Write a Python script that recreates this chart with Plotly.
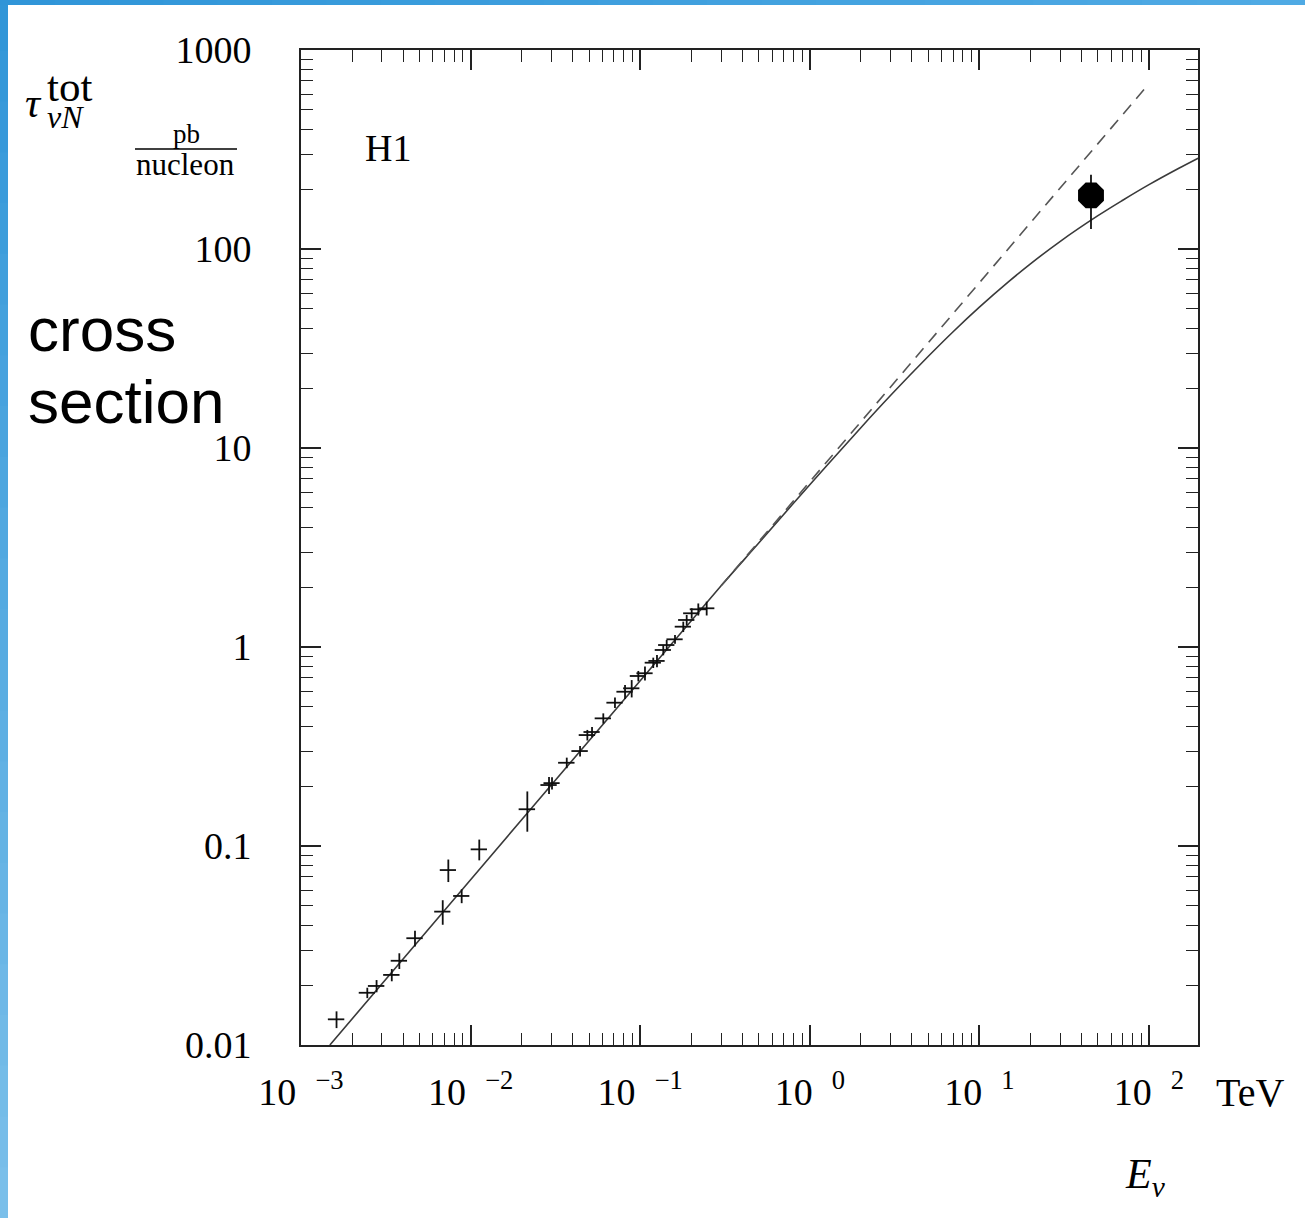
import plotly.graph_objects as go

# ---------------- data ----------------
# measured points (crosses): neutrino energy [TeV], cross section [pb/nucleon]
E_data = [0.00162, 0.00246, 0.00279, 0.00343, 0.00380, 0.00470, 0.00685, 0.00886,
          0.00739, 0.01125, 0.0216, 0.0290, 0.0302, 0.0369, 0.0442, 0.0488, 0.0520,
          0.0606, 0.0710, 0.0814, 0.0891, 0.0975, 0.1067, 0.1194, 0.1256, 0.1368,
          0.1433, 0.1604, 0.1795, 0.1880, 0.2012, 0.2201, 0.2466]
sig_data = [0.01346, 0.0183, 0.0198, 0.0225, 0.0265, 0.0344, 0.0468, 0.0561,
            0.0757, 0.0962, 0.153, 0.2025, 0.207, 0.262, 0.300, 0.361, 0.374,
            0.438, 0.525, 0.596, 0.620, 0.715, 0.738, 0.834, 0.851, 0.966,
            1.023, 1.093, 1.265, 1.367, 1.477, 1.547, 1.565]
sig_err = [0.0013, 0.0011, 0.0014, 0.0016, 0.0024, 0.0031, 0.0066, 0.0045,
           0.0098, 0.0115, 0.035, 0.020, 0.0145, 0.016, 0.018, 0.022, 0.022,
           0.026, 0.032, 0.048, 0.062, 0.043, 0.059, 0.050, 0.060, 0.058,
           0.061, 0.055, 0.076, 0.082, 0.089, 0.108, 0.125]
E_err = [0.00018, 0.00027, 0.00031, 0.00038, 0.00042, 0.00052, 0.00075, 0.00097,
         0.00081, 0.00124, 0.0024, 0.0032, 0.0033, 0.0041, 0.0049, 0.0054, 0.0057,
         0.0067, 0.0078, 0.0090, 0.0098, 0.0107, 0.0117, 0.0131, 0.0138, 0.0150,
         0.0158, 0.0176, 0.0197, 0.0207, 0.0221, 0.0242, 0.0271]

# H1 point
E_h1 = [45.5]
sig_h1 = [186]
sig_h1_up = [50]
sig_h1_dn = [60]

# theory curve (solid)
E_curve = [0.00148, 0.01, 0.1, 0.3, 0.5, 1, 2, 3, 5, 7, 10, 15, 20, 30, 50, 70, 100, 150, 195]
sig_curve = [0.0100, 0.0677, 0.677, 2.03, 3.33, 6.54, 12.65, 18.4, 28.9, 38.4, 51.0,
             68.9, 84.2, 109.3, 147, 175.8, 210.5, 254.5, 286]

# linear extrapolation (dashed)
E_lin = [0.3, 100]
sig_lin = [2.03, 677]

x_tickvals = [1e-3, 1e-2, 1e-1, 1, 10, 100]
x_ticktext = ["10\u2002<sup>\u22123</sup>", "10\u2002<sup>\u22122</sup>",
              "10\u2002<sup>\u22121</sup>", "10\u2002<sup>0</sup>",
              "10\u2002<sup>1</sup>", "10\u2002<sup>2</sup>"]
y_tickvals = [0.01, 0.1, 1, 10, 100, 1000]
y_ticktext = ["0.01", "0.1", "1", "10", "100", "1000"]

# ---------------- layout geometry ----------------
W, H = 1305, 1218
L, R, T, B = 301, 1198, 50, 1045


def px(x):
    return (x - L) / (R - L)


def py(y):
    return 1 - (y - T) / (B - T)


SERIF = "Liberation Serif, Times New Roman, serif"
SANS = "Liberation Sans, Arial, sans-serif"

fig = go.Figure()

fig.add_trace(go.Scatter(x=E_curve, y=sig_curve, mode="lines",
                         line=dict(color="#3a3a3a", width=1.6, shape="spline"),
                         showlegend=False, hoverinfo="skip"))
fig.add_trace(go.Scatter(x=E_lin, y=sig_lin, mode="lines",
                         line=dict(color="#555555", width=1.6, dash="12px,8px"),
                         showlegend=False, hoverinfo="skip"))
fig.add_trace(go.Scatter(x=E_data, y=sig_data, mode="markers",
                         marker=dict(size=1, color="black"),
                         error_x=dict(type="data", array=E_err, color="#111111", thickness=1.8, width=0),
                         error_y=dict(type="data", array=sig_err, color="#111111", thickness=1.8, width=0),
                         showlegend=False))
fig.add_trace(go.Scatter(x=E_h1, y=sig_h1, mode="markers",
                         marker=dict(size=28, color="black", symbol="octagon"),
                         error_y=dict(type="data", symmetric=False, array=sig_h1_up,
                                      arrayminus=sig_h1_dn, color="#111111", thickness=1.8, width=0),
                         showlegend=False))

axis_common = dict(
    type="log", showgrid=False, zeroline=False, showline=True, linecolor="#222222",
    linewidth=2, mirror="ticks", ticks="inside", ticklen=20, tickwidth=1.6,
    tickcolor="#222222", automargin=False,
    tickfont=dict(family=SERIF, size=38, color="black"),
    minor=dict(ticks="inside", ticklen=12, tickwidth=1.4, tickcolor="#222222",
               dtick="D1", showgrid=False),
)

fig.update_xaxes(range=[-3, 2.289], tickmode="array", tickvals=x_tickvals,
                 ticktext=x_ticktext, ticklabelstandoff=12, **axis_common)
fig.update_yaxes(range=[-2, 3], tickmode="array", tickvals=y_tickvals,
                 ticktext=y_ticktext, ticklabelstandoff=40, **axis_common)

annotations = [
    dict(text="cross", x=px(26), y=py(329), xanchor="left", yanchor="middle",
         font=dict(family=SANS, size=62, color="black")),
    dict(text="section", x=px(26), y=py(401), xanchor="left", yanchor="middle",
         font=dict(family=SANS, size=62, color="black")),
    dict(text="H1", x=px(388), y=py(148), xanchor="center", yanchor="middle",
         font=dict(family=SERIF, size=38, color="black")),
    dict(text="TeV", x=px(1250), y=py(1092), xanchor="center", yanchor="middle",
         font=dict(family=SERIF, size=40, color="black")),
    dict(text="<i>E</i><sub><i>\u03bd</i></sub>", x=px(1145), y=py(1177), xanchor="center",
         yanchor="middle", font=dict(family=SERIF, size=42, color="black")),
    dict(text="<i>\u03c4</i>", x=px(44), y=py(103), xanchor="right", yanchor="middle",
         font=dict(family=SERIF, size=42, color="black")),
    # stacked superscript / subscript of the symbol
    dict(text="<span style='font-size:43px'>tot</span><br>"
              "<span style='font-size:32px'><i>\u03bdN</i></span>",
         x=px(45), y=py(99), xanchor="left", yanchor="middle", align="left",
         font=dict(family=SERIF, size=21, color="black")),
    dict(text="pb", x=px(186), y=py(134), xanchor="center", yanchor="middle",
         font=dict(family=SERIF, size=27, color="black")),
    dict(text="nucleon", x=px(185), y=py(165), xanchor="center", yanchor="middle",
         font=dict(family=SERIF, size=31, color="black")),
]
for a in annotations:
    a.update(xref="paper", yref="paper", showarrow=False)

shapes = [dict(type="line", xref="paper", yref="paper", x0=px(135), x1=px(237),
               y0=py(149), y1=py(149), line=dict(color="black", width=1.5))]


def lerp_color(c0, c1, t):
    return "rgb(%d,%d,%d)" % tuple(round(a + (b - a) * t) for a, b in zip(c0, c1))


# blue slide border (left strip and top strip, with gradient)
n = 24
c_top, c_bot = (47, 149, 216), (124, 192, 234)
for i in range(n):
    y0 = H * i / n
    y1 = H * (i + 1) / n + 1
    shapes.append(dict(type="rect", xref="paper", yref="paper", x0=px(0), x1=px(8),
                       y0=py(y1), y1=py(y0), line=dict(width=0),
                       fillcolor=lerp_color(c_top, c_bot, (i + 0.5) / n), layer="above"))
c_l, c_r = (47, 149, 216), (80, 170, 228)
for i in range(n):
    x0 = W * i / n
    x1 = W * (i + 1) / n + 1
    shapes.append(dict(type="rect", xref="paper", yref="paper", x0=px(x0), x1=px(x1),
                       y0=py(5), y1=py(0), line=dict(width=0),
                       fillcolor=lerp_color(c_l, c_r, (i + 0.5) / n), layer="above"))

fig.update_layout(
    width=W, height=H, autosize=False,
    margin=dict(l=L, r=W - R, t=T, b=H - B, pad=0),
    paper_bgcolor="white", plot_bgcolor="white",
    annotations=annotations, shapes=shapes,
)

fig.write_html("out.html", config={"displayModeBar": False},
               post_script="document.body.style.margin='0px';document.body.style.overflow='hidden';")
